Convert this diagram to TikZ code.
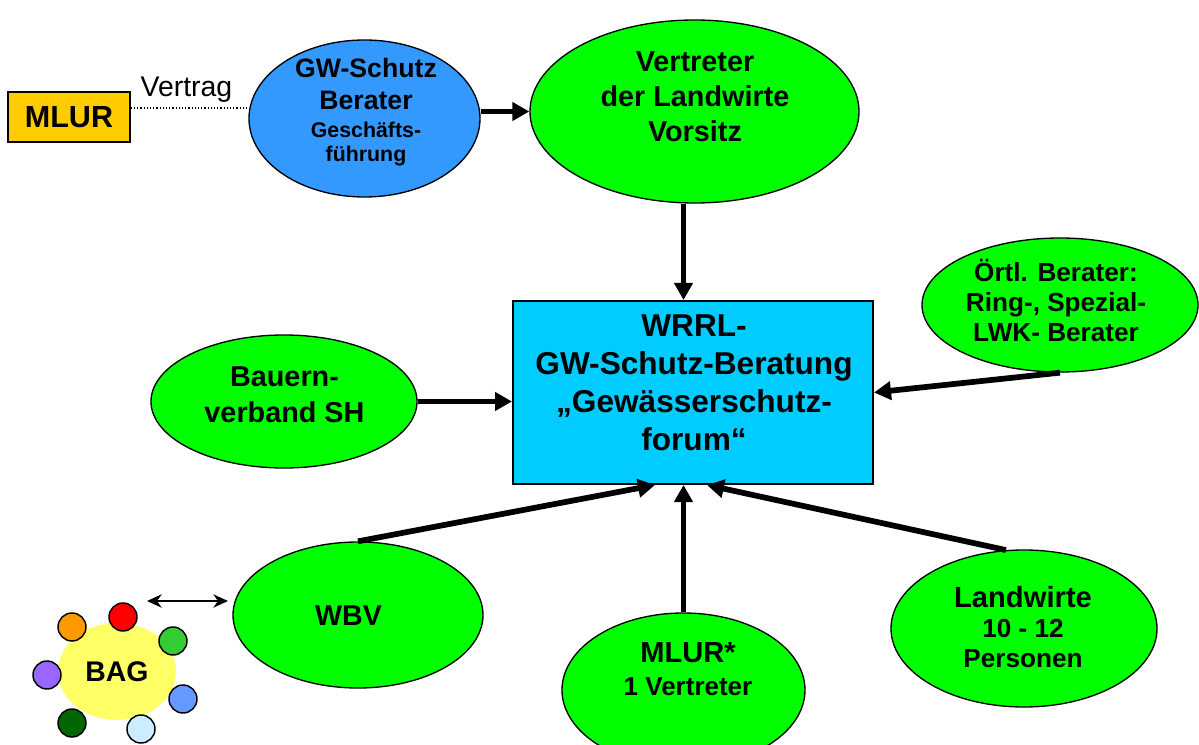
\documentclass[tikz,border=0pt]{standalone}
\usepackage{fontspec}
\setmainfont{Liberation Sans}
\usetikzlibrary{arrows.meta,shapes.geometric}

\definecolor{limeGreen}{HTML}{00FF00}
\definecolor{gwBlue}{HTML}{3399FF}
\definecolor{forumBlue}{HTML}{00CCFF}
\definecolor{mlurGold}{HTML}{FFCC00}
\definecolor{bagYellow}{HTML}{FFFF66}
\definecolor{dotOrange}{HTML}{FF9900}
\definecolor{dotRed}{HTML}{FF0000}
\definecolor{dotGreen}{HTML}{33CC33}
\definecolor{dotPurple}{HTML}{9966FF}
\definecolor{dotBlue}{HTML}{6699FF}
\definecolor{dotDark}{HTML}{006600}
\definecolor{dotLight}{HTML}{CCECFF}

\begin{document}
\begin{tikzpicture}[x = 0.75pt, y = -0.75pt,
    blob/.style = {ellipse, draw=black, line width=1pt, fill=limeGreen, inner sep=0pt},
    lbl/.style 2 args = {align=center, inner sep=0pt, font=\bfseries\fontsize{#1}{#2}\selectfont},
    flow/.style = {line width=4.3pt, -{Triangle[length=12.75pt, width=13.5pt]}},
    dot/.style = {circle, draw=black, line width=1.1pt, minimum size=21pt, inner sep=0pt}]

    \useasboundingbox (0,0) rectangle (1199,745);

    % contract partner
    \node[draw=black, line width=1.1pt, fill=mlurGold, minimum width=91.5pt, minimum height=37.5pt,
          lbl={22.9}{27}] (mlur) at (69,117) {MLUR};
    \node[anchor=base, inner sep=0pt, font=\fontsize{21.3}{25}\selectfont] (vertrag) at (186.5,97) {Vertrag};

    % ellipses
    \node[blob, fill=gwBlue, minimum width=173.25pt, minimum height=117.75pt] (gw) at (364.5,118.5) {};
    \node[blob, minimum width=246.75pt, minimum height=137.25pt] (vertreter) at (694.5,111.5) {};
    \node[blob, minimum width=199.5pt, minimum height=99.75pt] (bauern) at (284,401.5) {};
    \node[blob, minimum width=207pt, minimum height=100.5pt] (oertl) at (1060,305) {};
    \node[blob, minimum width=187.5pt, minimum height=109.5pt] (wbv) at (358,615) {};
    \node[blob, minimum width=182.25pt, minimum height=115.5pt] (mlurTwo) at (683.5,690) {};
    \node[blob, minimum width=199.5pt, minimum height=117.75pt] (landwirte) at (1024,628.5) {};

    % forum
    \node[draw=black, line width=1.5pt, fill=forumBlue, minimum width=270pt, minimum height=137.25pt,
          inner sep=0pt] (forum) at (693,392.5) {};

    % texts
    \node[lbl={20}{24}] (gwTxt) at (366,111.7)
        {GW-Schutz\\Berater\\[-3pt]{\fontsize{16}{18}\selectfont Geschäfts-}\\[-6pt]{\fontsize{16}{18}\selectfont führung}};
    \node[lbl={21.6}{26.2}] (vertreterTxt) at (695,97) {Vertreter\\der Landwirte\\Vorsitz};
    \node[lbl={21.6}{27}] (bauernTxt) at (284.5,394.5) {Bauern-\\verband SH};
    \node[lbl={19.6}{22.5}] (oertlTxt) at (1056,300) {Örtl. Berater:\\Ring-, Spezial-\\LWK- Berater};
    \node[lbl={21.5}{25}] (wbvTxt) at (348.5,615.7) {WBV};
    \node[lbl={19.5}{24.75}] (mlurTwoTxt) at (688,669) {{\fontsize{21.8}{24.75}\selectfont MLUR*}\\1 Vertreter};
    \node[lbl={19.6}{22.5}] (landwirteTxt) at (1023,627) {{\fontsize{21.9}{22.5}\selectfont Landwirte}\\10 - 12\\Personen};
    \node[lbl={23.7}{28.5}] (forumTxt) at (694,382.5) {WRRL-\\GW-Schutz-Beratung\\„Gewässerschutz-\\forum“};

    % BAG group
    \node[ellipse, fill=bagYellow, minimum width=88.5pt, minimum height=72.75pt, lbl={21.3}{25}] (bag) at (117,671.5) {BAG};
    \node[dot, fill=dotOrange] (dotA) at (72,627) {};
    \node[dot, fill=dotRed] (dotB) at (123,617) {};
    \node[dot, fill=dotGreen] (dotC) at (173,641) {};
    \node[dot, fill=dotPurple] (dotD) at (47,675) {};
    \node[dot, fill=dotBlue] (dotE) at (183,699) {};
    \node[dot, fill=dotDark] (dotF) at (72,723) {};
    \node[dot, fill=dotLight] (dotG) at (141,729) {};

    % connectors
    \draw[line width=1pt, dash pattern=on 1pt off 1.4pt] ([yshift=6.75pt]mlur.east) -- ([yshift=7.875pt]gw.west);
    \draw[flow] (gw.east |- vertreter.west) -- (vertreter.west);
    \draw[flow] (vertreter.south -| mlurTwo.north) -- (forum.north -| mlurTwo.north);
    \draw[flow] (mlurTwo.north) -- (forum.south -| mlurTwo.north);
    \draw[flow] (bauern.east) -- (bauern.east -| forum.west);
    \draw[flow] (oertl.south) -- (forum.east);
    \draw[flow] (wbv.north) -- ([xshift=-28.5pt]forum.south);
    \draw[flow] (landwirte.103) -- ([xshift=10.5pt]forum.south);

    \coordinate (bagLink) at (147,601);
    \coordinate (wbvLink) at (228,601);
    \draw[line width=1.2pt, {Stealth[length=11pt, width=10pt, inset=3.5pt]}-{Stealth[length=11pt, width=10pt, inset=3.5pt]}]
        (bagLink) -- (wbvLink);

\end{tikzpicture}
\end{document}
